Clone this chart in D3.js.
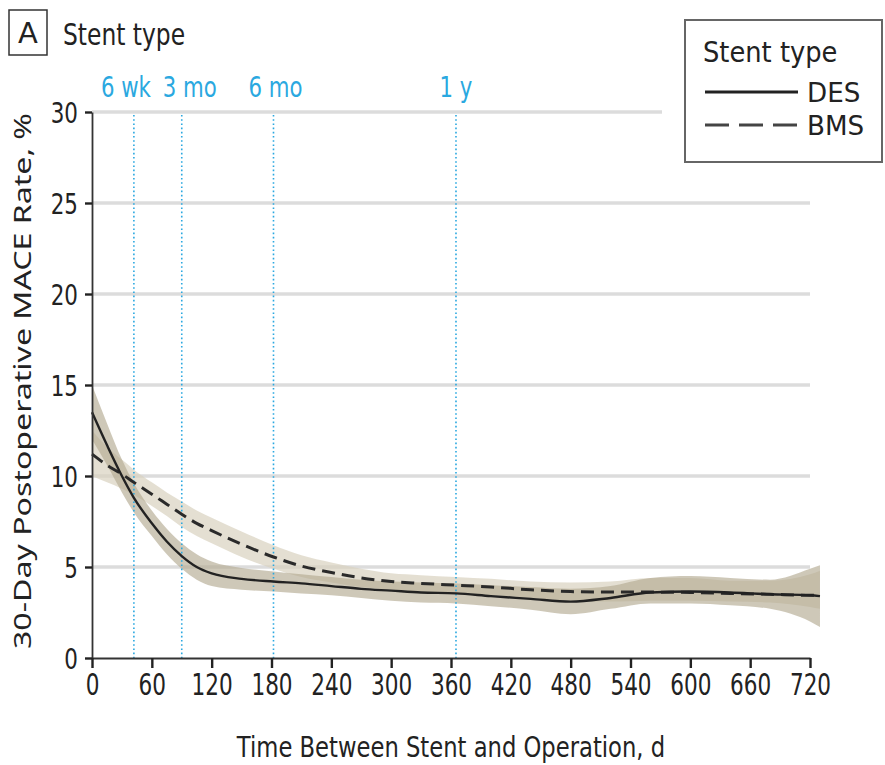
<!DOCTYPE html>
<html>
<head>
<meta charset="utf-8">
<script src="https://cdn.jsdelivr.net/npm/d3@7"></script>
<style>
  body { margin: 0; background: #fff; }
  svg { display: block; }
  text { font-family: "DejaVu Sans", sans-serif; fill: #222; }
</style>
</head>
<body>
<svg id="chart" width="885" height="765"></svg>
<script>
// days since stent
const days = [0, 15, 30, 42, 60, 75, 90, 105, 120, 150, 182, 210, 240, 270, 300, 330, 365, 400, 440, 480, 520, 560, 600, 640, 680, 720, 730];

// DES estimate and 95% band
const desRate = [13.5, 11.7, 10.0, 8.8, 7.4, 6.4, 5.6, 5.0, 4.65, 4.35, 4.2, 4.1, 3.95, 3.8, 3.7, 3.6, 3.55, 3.4, 3.25, 3.1, 3.3, 3.6, 3.65, 3.6, 3.5, 3.45, 3.4];
const desLow = [12.0, 10.6, 9.1, 8.0, 6.7, 5.7, 4.9, 4.3, 3.95, 3.75, 3.65, 3.55, 3.45, 3.3, 3.15, 3.05, 3.0, 2.85, 2.65, 2.4, 2.7, 3.0, 3.0, 2.9, 2.7, 2.0, 1.7];
const desHigh = [15.0, 12.9, 10.9, 9.6, 8.1, 7.1, 6.3, 5.7, 5.3, 4.95, 4.75, 4.6, 4.45, 4.3, 4.2, 4.15, 4.1, 4.0, 3.9, 3.8, 3.95, 4.4, 4.5, 4.4, 4.3, 4.9, 5.1];

// BMS estimate and 95% band
const bmsRate = [11.2, 10.6, 10.1, 9.65, 9.0, 8.45, 7.9, 7.4, 7.0, 6.25, 5.55, 5.05, 4.7, 4.4, 4.2, 4.1, 4.0, 3.9, 3.75, 3.65, 3.62, 3.62, 3.6, 3.55, 3.5, 3.45, 3.45];
const bmsLow = [10.0, 9.65, 9.3, 8.95, 8.35, 7.8, 7.2, 6.7, 6.3, 5.55, 4.9, 4.45, 4.15, 3.9, 3.75, 3.65, 3.55, 3.45, 3.3, 3.15, 3.1, 3.15, 3.15, 3.1, 3.05, 2.8, 2.7];
const bmsHigh = [12.5, 11.6, 10.9, 10.35, 9.65, 9.1, 8.6, 8.1, 7.7, 6.95, 6.2, 5.65, 5.25, 4.9, 4.65, 4.55, 4.45, 4.35, 4.2, 4.15, 4.2, 4.4, 4.4, 4.25, 4.25, 4.6, 4.8];

const markerDays = [42, 90, 182, 365];
const markerLabels = ["6 wk", "3 mo", "6 mo", "1 y"];

const xTicks = [0, 60, 120, 180, 240, 300, 360, 420, 480, 540, 600, 660, 720];
const yTicks = [0, 5, 10, 15, 20, 25, 30];

const svg = d3.select("#chart");
const x = d3.scaleLinear().domain([0, 720]).range([92, 810]);
const y = d3.scaleLinear().domain([0, 30]).range([658, 112]);

// text squeezed horizontally to mimic the condensed journal font
function label(parent, tx, ty, str, size, anchor = "start", sx = 0.8) {
  return parent.append("text")
    .attr("transform", `translate(${tx},${ty}) scale(${sx},1)`)
    .attr("text-anchor", anchor)
    .style("font-size", `${size}px`)
    .text(str);
}

// gridlines
svg.append("g")
  .selectAll("line")
  .data(yTicks.filter(d => d > 0))
  .join("line")
  .attr("x1", x(0)).attr("x2", x(720))
  .attr("y1", d => y(d)).attr("y2", d => y(d))
  .attr("stroke", "#dcdcdc")
  .attr("stroke-width", 3.5);

// confidence bands
const rows = days.map((d, i) => ({
  day: d,
  des: desRate[i], desLo: desLow[i], desHi: desHigh[i],
  bms: bmsRate[i], bmsLo: bmsLow[i], bmsHi: bmsHigh[i],
}));

const band = (lo, hi) => d3.area()
  .x(d => x(d.day))
  .y0(d => y(d[lo]))
  .y1(d => y(d[hi]))
  .curve(d3.curveMonotoneX);

svg.append("path").datum(rows)
  .attr("d", band("bmsLo", "bmsHi"))
  .attr("fill", "#d8d1bf")
  .attr("fill-opacity", 0.7);

svg.append("path").datum(rows)
  .attr("d", band("desLo", "desHi"))
  .attr("fill", "#b3aa92")
  .attr("fill-opacity", 0.65);

// time markers
const labelNudge = [-8, 8, 2, 0];
svg.append("g")
  .selectAll("line")
  .data(markerDays)
  .join("line")
  .attr("x1", d => x(d)).attr("x2", d => x(d))
  .attr("y1", y(30) + 3).attr("y2", y(0))
  .attr("stroke", "#2aa8e0")
  .attr("stroke-width", 1.6)
  .attr("stroke-dasharray", "1.6,2.6");

const markerGroup = svg.append("g");
markerDays.forEach((d, i) => {
  label(markerGroup, x(d) + labelNudge[i], 97, markerLabels[i], 28, "middle", 0.76)
    .style("fill", "#2aa8e0");
});

// estimate lines
const line = key => d3.line()
  .x(d => x(d.day))
  .y(d => y(d[key]))
  .curve(d3.curveMonotoneX);

svg.append("path").datum(rows)
  .attr("d", line("bms"))
  .attr("fill", "none")
  .attr("stroke", "#2a2a2a")
  .attr("stroke-width", 3)
  .attr("stroke-dasharray", "13,7");

svg.append("path").datum(rows)
  .attr("d", line("des"))
  .attr("fill", "none")
  .attr("stroke", "#222")
  .attr("stroke-width", 2.4);

// axes
const yAxis = svg.append("g")
  .attr("transform", `translate(${x(0)},0)`)
  .call(d3.axisLeft(y).tickValues(yTicks).tickSize(7).tickSizeOuter(0).tickPadding(7));
const xAxis = svg.append("g")
  .attr("transform", `translate(0,${y(0)})`)
  .call(d3.axisBottom(x).tickValues(xTicks).tickSize(10).tickSizeOuter(0).tickPadding(6));

[yAxis, xAxis].forEach(g => {
  g.select(".domain").attr("stroke", "#333").attr("stroke-width", 1.8);
  g.selectAll(".tick line").attr("stroke", "#222").attr("stroke-width", 2.4);
  g.selectAll(".tick text")
    .style("font-family", "'DejaVu Sans', sans-serif")
    .style("font-size", "29px")
    .style("fill", "#222");
});
yAxis.selectAll(".tick text")
  .attr("dy", "0.36em")
  .attr("x", -14 / 0.74)
  .attr("transform", "scale(0.74,1)");
xAxis.selectAll(".tick text")
  .style("font-size", "30px")
  .attr("transform", "scale(0.72,1)");

label(svg, 451, 757, "Time Between Stent and Operation, d", 28, "middle", 0.81);

svg.append("text")
  .attr("transform", `translate(31,${(112 + 650) / 2}) rotate(-90)`)
  .attr("text-anchor", "middle")
  .attr("textLength", 536)
  .attr("lengthAdjust", "spacingAndGlyphs")
  .style("font-family", "'Noto Sans', 'Open Sans', sans-serif")
  .style("font-size", "24px")
  .text("30-Day Postoperative MACE Rate, %");

// panel label
svg.append("rect")
  .attr("x", 9).attr("y", 10).attr("width", 38).attr("height", 45)
  .attr("fill", "none").attr("stroke", "#333").attr("stroke-width", 1.5);
label(svg, 28, 43, "A", 29, "middle", 1);
label(svg, 63, 45, "Stent type", 30, "start", 0.78);

// legend
const legend = svg.append("g");
legend.append("rect")
  .attr("x", 662).attr("y", 14).attr("width", 223).attr("height", 152)
  .attr("fill", "#fff");
legend.append("rect")
  .attr("x", 685).attr("y", 20).attr("width", 197).attr("height", 142)
  .attr("fill", "#fff").attr("stroke", "#666").attr("stroke-width", 2);
label(legend, 703, 62, "Stent type", 28, "start", 0.92);

const legendItems = [
  { label: "DES", dash: null, color: "#222" },
  { label: "BMS", dash: "24,10", color: "#444" },
];
legendItems.forEach((item, i) => {
  const ly = 92 + i * 33;
  legend.append("line")
    .attr("x1", 705).attr("x2", 798)
    .attr("y1", ly).attr("y2", ly)
    .attr("stroke", item.color)
    .attr("stroke-width", 3.2)
    .attr("stroke-dasharray", item.dash);
  label(legend, 807, ly + 10, item.label, 27, "start", 0.97);
});
</script>
</body>
</html>
